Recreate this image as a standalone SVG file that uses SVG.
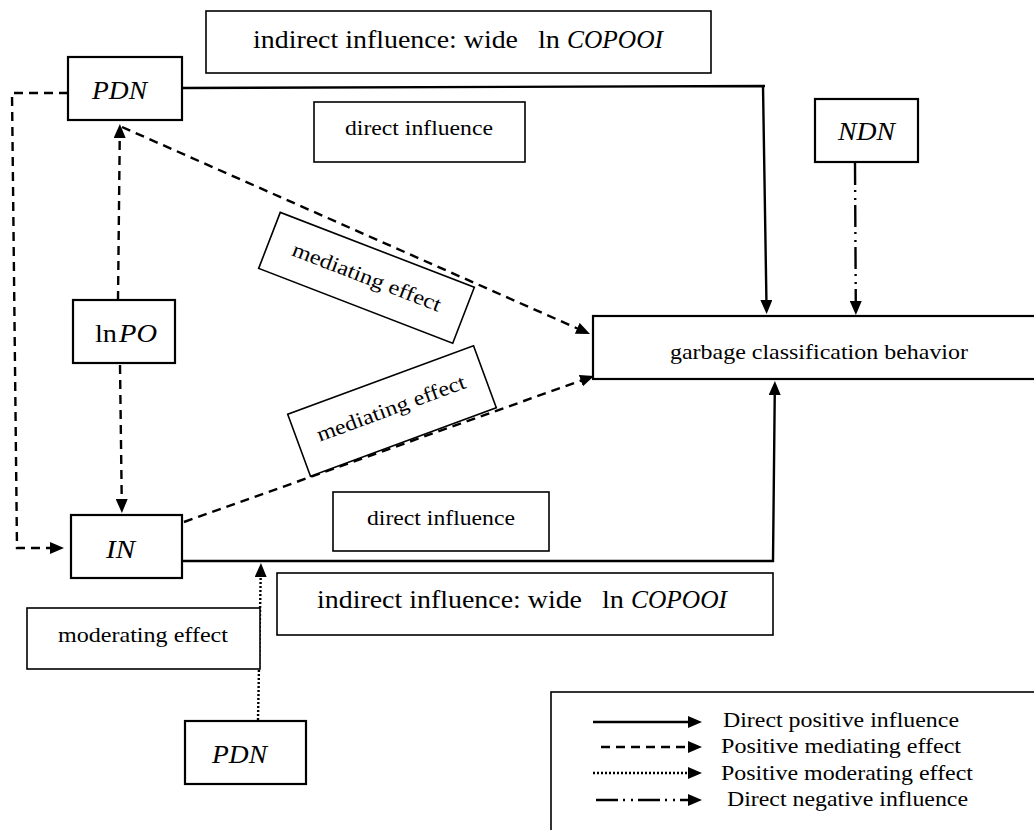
<svg xmlns="http://www.w3.org/2000/svg" width="1034" height="830" viewBox="0 0 1034 830">
<style>
.bx{fill:#fff;stroke:#000;stroke-width:2.2}
.lb{fill:#fff;stroke:#000;stroke-width:1.6}
.t{font-family:"Liberation Serif","Times New Roman",serif;fill:#000}
.m{font-family:"Liberation Serif","Times New Roman",serif;font-style:italic;fill:#000}
.ln{fill:none;stroke:#000;stroke-width:2}
.solid{fill:none;stroke:#000;stroke-width:2.4}
.dash{fill:none;stroke:#000;stroke-width:2.4;stroke-dasharray:9 6}
.dot{fill:none;stroke:#000;stroke-width:2.4;stroke-dasharray:2 2}
.dd{fill:none;stroke:#000;stroke-width:2.4;stroke-dasharray:22 5 2 6 2 5}
</style>
<defs>
<marker id="ah" markerUnits="userSpaceOnUse" markerWidth="14" markerHeight="12" refX="6" refY="6" orient="auto">
<path d="M0,0 L14,6 L0,12 z" fill="#000"/>
</marker>
</defs>
<rect width="1034" height="830" fill="#fff"/>

<g id="connectors">
<path class="solid" d="M182,88 L765,86 M763,86 L766.5,306" marker-end="url(#ah)"/>
<path class="solid" d="M766.5,306 L767,306" />
<path class="solid" d="M182,561 L773,561 L774.8,389" marker-end="url(#ah)"/>
<path class="dd" d="M855,163 L855.8,307" marker-end="url(#ah)"/>
<path class="dash" d="M68,93 L12,93 L17,548 L56,548" marker-end="url(#ah)"/>
<path class="dash" d="M118,300 L119.8,132" marker-end="url(#ah)"/>
<path class="dash" d="M120,365 L121.8,505" marker-end="url(#ah)"/>
<path class="dash" d="M122,127 L582.7,330.8" marker-end="url(#ah)"/>
<path class="dash" d="M184,522 L586.5,378.7" marker-end="url(#ah)"/>
<path class="dot" d="M258,720 L260.8,571" marker-end="url(#ah)"/>
</g>

<g id="label-indirect-top">
<rect class="lb" x="206" y="11" width="505" height="62"/>
<text class="t" x="253" y="48" font-size="26" textLength="265" lengthAdjust="spacingAndGlyphs">indirect influence: wide</text>
<text class="t" x="538" y="48" font-size="26" textLength="22" lengthAdjust="spacingAndGlyphs">ln</text>
<text class="m" x="567" y="48" font-size="26" textLength="96" lengthAdjust="spacingAndGlyphs">COPOOI</text>
</g>

<g id="node-pdn-top">
<rect class="bx" x="68" y="57" width="114" height="63"/>
<text class="m" x="92" y="99" font-size="25" textLength="55" lengthAdjust="spacingAndGlyphs">PDN</text>
</g>

<g id="label-direct-top">
<rect class="lb" x="314" y="102" width="211" height="60"/>
<text class="t" x="345" y="135" font-size="21" textLength="148" lengthAdjust="spacingAndGlyphs">direct influence</text>
</g>

<g id="node-ndn">
<rect class="bx" x="815" y="99" width="103" height="63"/>
<text class="m" x="838" y="140" font-size="25" textLength="57" lengthAdjust="spacingAndGlyphs">NDN</text>
</g>

<g id="label-mediating-1" transform="translate(366.5,277.8) rotate(21.1)">
<rect class="lb" x="-104" y="-30" width="208" height="60"/>
<text class="t" x="0" y="6" font-size="21" text-anchor="middle" textLength="158" lengthAdjust="spacingAndGlyphs">mediating effect</text>
</g>

<g id="label-mediating-2" transform="translate(392,411) rotate(-20.2)">
<rect class="lb" x="-99" y="-33" width="198" height="66"/>
<text class="t" x="0" y="4" font-size="21" text-anchor="middle" textLength="157" lengthAdjust="spacingAndGlyphs">mediating effect</text>
</g>

<g id="node-lnpo">
<rect class="bx" x="73" y="300" width="102" height="63"/>
<text class="t" x="95" y="342" font-size="25" textLength="22" lengthAdjust="spacingAndGlyphs">ln</text>
<text class="m" x="119" y="342" font-size="25" textLength="38" lengthAdjust="spacingAndGlyphs">PO</text>
</g>

<g id="node-garbage">
<rect class="bx" x="593" y="316" width="445" height="63"/>
<text class="t" x="670" y="359" font-size="22" textLength="298" lengthAdjust="spacingAndGlyphs">garbage classification behavior</text>
</g>

<g id="node-in">
<rect class="bx" x="71" y="515" width="111" height="63"/>
<text class="m" x="106" y="558" font-size="25" textLength="29" lengthAdjust="spacingAndGlyphs">IN</text>
</g>

<g id="label-direct-bottom">
<rect class="lb" x="333" y="492" width="216" height="59"/>
<text class="t" x="367" y="525" font-size="21" textLength="148" lengthAdjust="spacingAndGlyphs">direct influence</text>
</g>

<g id="label-indirect-bottom">
<rect class="lb" x="277" y="573" width="496" height="62"/>
<text class="t" x="317" y="608" font-size="26" textLength="265" lengthAdjust="spacingAndGlyphs">indirect influence: wide</text>
<text class="t" x="602" y="608" font-size="26" textLength="22" lengthAdjust="spacingAndGlyphs">ln</text>
<text class="m" x="631" y="608" font-size="26" textLength="96" lengthAdjust="spacingAndGlyphs">COPOOI</text>
</g>

<g id="label-moderating">
<rect class="lb" x="27" y="608" width="233" height="61"/>
<text class="t" x="58" y="642" font-size="21" textLength="170" lengthAdjust="spacingAndGlyphs">moderating effect</text>
</g>

<g id="node-pdn-bottom">
<rect class="bx" x="185" y="721" width="121" height="63"/>
<text class="m" x="212" y="763" font-size="25" textLength="55" lengthAdjust="spacingAndGlyphs">PDN</text>
</g>

<g id="legend">
<rect class="lb" x="551" y="692" width="490" height="150"/>
<path class="solid" d="M593,722 L694,722" marker-end="url(#ah)"/>
<path class="dash" d="M601,747 L694,747" marker-end="url(#ah)"/>
<path class="dot" d="M593,773 L694,773" marker-end="url(#ah)"/>
<path class="dd" d="M596,800 L694,800" marker-end="url(#ah)"/>
<text class="t" x="723" y="727" font-size="21" textLength="236" lengthAdjust="spacingAndGlyphs">Direct positive influence</text>
<text class="t" x="721" y="753" font-size="21" textLength="240" lengthAdjust="spacingAndGlyphs">Positive mediating effect</text>
<text class="t" x="721" y="780" font-size="21" textLength="252" lengthAdjust="spacingAndGlyphs">Positive moderating effect</text>
<text class="t" x="727" y="806" font-size="21" textLength="241" lengthAdjust="spacingAndGlyphs">Direct negative influence</text>
</g>
</svg>
